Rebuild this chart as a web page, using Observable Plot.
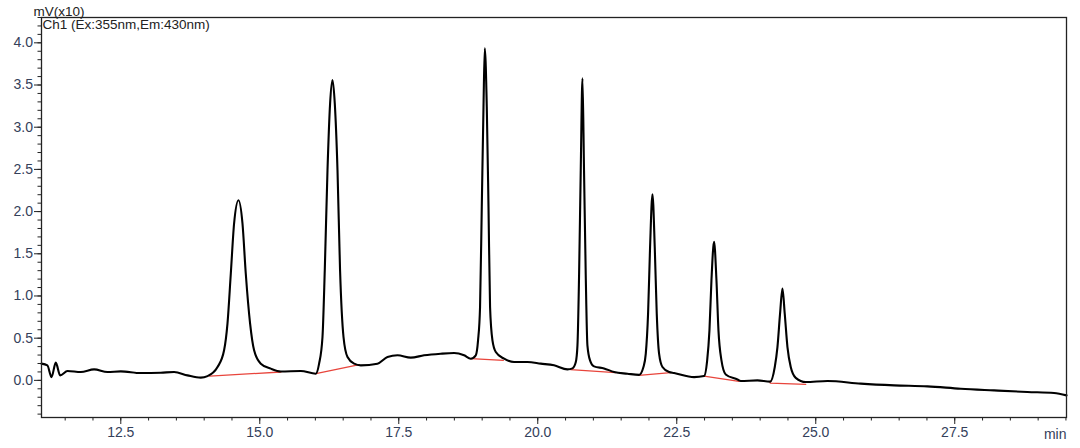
<!DOCTYPE html>
<html>
<head>
<meta charset="utf-8">
<script src="https://cdn.jsdelivr.net/npm/d3@7"></script>
<script src="https://cdn.jsdelivr.net/npm/@observablehq/plot@0.6"></script>
<style>
  html, body { margin: 0; padding: 0; background: #fff; }
  #chart { width: 1080px; height: 448px; }
</style>
</head>
<body>
<div id="chart"></div>
<script>
// ---- Data ----
// retention time (min), signal (mV x10)
const signalTime = [
  11.074, 11.18, 11.254, 11.331, 11.409, 11.542, 11.781, 12.02, 12.261, 12.5,
  12.86, 13.22, 13.459, 13.7, 13.939, 14.06, 14.24, 14.358, 14.419, 14.479,
  14.538, 14.617, 14.689, 14.748, 14.826, 14.898, 15.018, 15.198, 15.378, 15.738,
  16.008, 16.067, 16.128, 16.169, 16.218, 16.265, 16.308, 16.349, 16.398, 16.444,
  16.506, 16.578, 16.696, 16.817, 17.117, 17.297, 17.477, 17.716, 17.955, 18.255,
  18.495, 18.675, 18.795, 18.885, 18.926, 18.962, 18.993, 19.024, 19.047, 19.083,
  19.114, 19.142, 19.185, 19.245, 19.394, 19.574, 19.815, 20.054, 20.293, 20.534,
  20.624, 20.683, 20.714, 20.743, 20.773, 20.804, 20.832, 20.863, 20.893, 20.94,
  21.012, 21.192, 21.373, 21.613, 21.822, 21.901, 21.943, 21.984, 22.02, 22.063,
  22.104, 22.14, 22.182, 22.243, 22.362, 22.452, 22.812, 22.991, 23.047, 23.088,
  23.124, 23.171, 23.214, 23.25, 23.304, 23.381, 23.592, 23.651, 23.951, 24.18,
  24.263, 24.311, 24.358, 24.401, 24.442, 24.491, 24.55, 24.64, 24.82, 25.211,
  25.81, 26.409, 27.009, 27.608, 28.207, 28.807, 29.286, 29.51
];
const signalValue = [
  0.198, 0.178, 0.039, 0.21, 0.059, 0.111, 0.099, 0.13, 0.099, 0.107,
  0.087, 0.091, 0.099, 0.059, 0.032, 0.05, 0.158, 0.356, 0.673, 1.266,
  1.859, 2.135, 1.859, 1.266, 0.673, 0.356, 0.198, 0.139, 0.105, 0.111,
  0.079, 0.198, 0.514, 1.305, 2.491, 3.282, 3.559, 3.282, 2.491, 1.305,
  0.514, 0.276, 0.198, 0.178, 0.198, 0.277, 0.297, 0.269, 0.297, 0.316,
  0.324, 0.297, 0.257, 0.297, 0.474, 0.87, 2.056, 3.242, 3.935, 3.242,
  2.056, 0.87, 0.474, 0.336, 0.257, 0.217, 0.217, 0.198, 0.178, 0.13,
  0.142, 0.214, 0.415, 1.246, 2.491, 3.579, 2.491, 1.246, 0.415, 0.237,
  0.166, 0.142, 0.099, 0.079, 0.065, 0.158, 0.317, 0.791, 1.581, 2.206,
  1.581, 0.791, 0.317, 0.158, 0.098, 0.087, 0.039, 0.051, 0.237, 0.593,
  1.186, 1.641, 1.186, 0.593, 0.237, 0.07, 0.01, -0.008, 0.0, -0.015,
  0.158, 0.395, 0.791, 1.088, 0.791, 0.395, 0.158, 0.03, -0.02, -0.008,
  -0.039, -0.059, -0.071, -0.099, -0.119, -0.138, -0.15, -0.178
];

// integration baselines (red), one list of [time, value] per peak
const baselinePeak1 = [[14.10, 0.050], [15.38, 0.099]];
const baselinePeak2 = [[16.01, 0.079], [16.79, 0.186]];
const baselinePeak3 = [[18.80, 0.257], [19.38, 0.237]];
const baselinePeak4 = [[20.59, 0.127], [21.40, 0.091]];
const baselinePeak5 = [[21.82, 0.059], [22.39, 0.091]];
const baselinePeak6 = [[22.99, 0.051], [23.62, -0.012]];
const baselinePeak7 = [[24.18, -0.012], [24.18, -0.032], [24.82, -0.047]];

// axis ticks
const xMajorTicks = [12.5, 15.0, 17.5, 20.0, 22.5, 25.0, 27.5];
const yMajorTicks = [0.0, 0.5, 1.0, 1.5, 2.0, 2.5, 3.0, 3.5, 4.0];
const xMinorTicks = d3.range(11.5, 29.51, 0.5);
const yMinorTicks = d3.range(-0.4, 4.31, 0.1);

const xDomain = [11.074, 29.51];
const yDomain = [-0.44, 4.30];

const yAxisTitle = "mV(x10)";
const channelLabel = "Ch1 (Ex:355nm,Em:430nm)";
const xAxisUnit = "min";

// ---- build tables ----
const signal = signalTime.map((t, i) => ({t, v: signalValue[i]}));
const baselines = [baselinePeak1, baselinePeak2, baselinePeak3, baselinePeak4,
                   baselinePeak5, baselinePeak6, baselinePeak7]
  .flatMap((seg, k) => seg.map(([t, v]) => ({peak: k + 1, t, v})));

const labelColor = "#34405a";

const chart = Plot.plot({
  width: 1080,
  height: 448,
  marginLeft: 41,
  marginRight: 14,
  marginTop: 17,
  marginBottom: 31,
  style: {fontFamily: "'Liberation Sans', Arial, sans-serif", fontSize: "14px", background: "#fff"},
  x: {domain: xDomain, nice: false},
  y: {domain: yDomain, nice: false},
  marks: [
    Plot.axisX(xMinorTicks, {tickSize: 3.5, text: null, label: null, stroke: "#222"}),
    Plot.axisY(yMinorTicks, {tickSize: 3.5, text: null, label: null, stroke: "#222"}),
    Plot.axisX(xMajorTicks, {tickSize: 7, tickPadding: 3, tickFormat: d3.format(".1f"),
      label: null, stroke: "#222", fill: labelColor, fontSize: 14}),
    Plot.axisY(yMajorTicks, {tickSize: 7, tickPadding: 1.5, tickFormat: d3.format(".1f"),
      label: null, stroke: "#222", fill: labelColor, fontSize: 14}),
    Plot.line(baselines, {x: "t", y: "v", z: "peak", stroke: "#e8453c", strokeWidth: 1.3}),
    Plot.line(signal, {x: "t", y: "v", stroke: "#000", strokeWidth: 2.1, curve: "monotone-x"}),
    Plot.frame({stroke: "#222", strokeWidth: 1.3}),
    Plot.text([yAxisTitle], {frameAnchor: "top-left", dx: -8, dy: -6, textAnchor: "start",
      lineAnchor: "middle", fill: "#222", fontSize: 13.5}),
    Plot.text([channelLabel], {frameAnchor: "top-left", dx: 1, dy: 7, textAnchor: "start",
      lineAnchor: "middle", fill: "#222", fontSize: 13.5}),
    Plot.text([xAxisUnit], {frameAnchor: "bottom-right", dx: 0, dy: 17, textAnchor: "end",
      lineAnchor: "middle", fill: labelColor, fontSize: 14})
  ]
});
document.getElementById("chart").appendChild(chart);
</script>
</body>
</html>
